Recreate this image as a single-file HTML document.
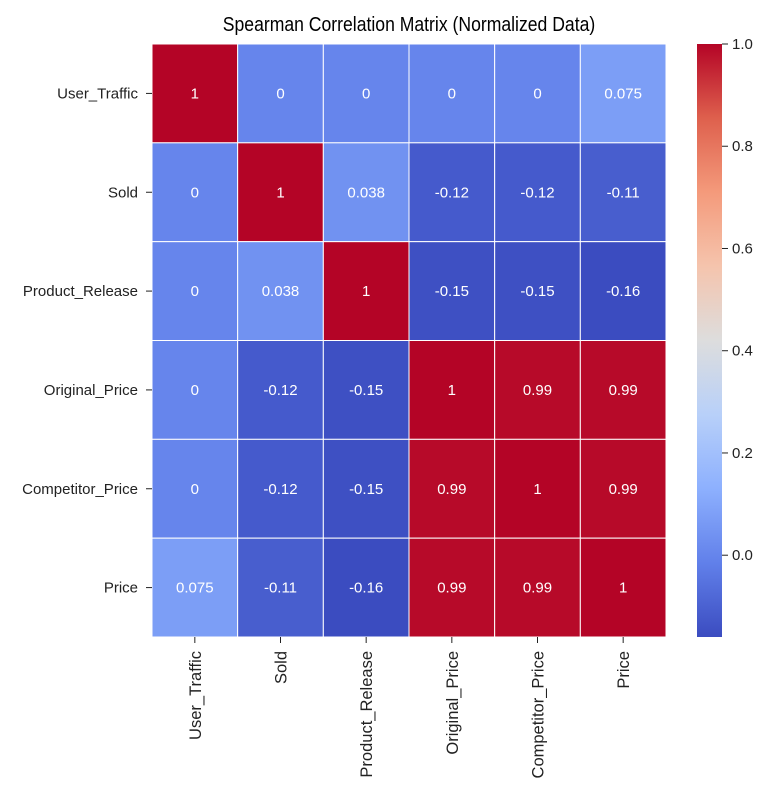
<!DOCTYPE html>
<html><head><meta charset="utf-8"><style>
body{margin:0;background:#fff;}
svg text{font-family:"Liberation Sans",sans-serif;}
</style></head><body>
<svg id="chart" width="778" height="805" xmlns="http://www.w3.org/2000/svg">
<defs><linearGradient id="cbg" x1="0" y1="1" x2="0" y2="0">
<stop offset="0" stop-color="rgb(59,76,192)"/><stop offset="0.125" stop-color="rgb(97,128,234)"/><stop offset="0.25" stop-color="rgb(141,176,254)"/><stop offset="0.375" stop-color="rgb(184,208,249)"/><stop offset="0.5" stop-color="rgb(221,221,221)"/><stop offset="0.625" stop-color="rgb(245,196,173)"/><stop offset="0.75" stop-color="rgb(244,154,123)"/><stop offset="0.875" stop-color="rgb(222,96,77)"/><stop offset="1" stop-color="rgb(180,4,38)"/>
</linearGradient></defs>
<text x="409" y="31" text-anchor="middle" font-size="20" transform="translate(409,0) scale(0.88,1) translate(-409,0)">Spearman Correlation Matrix (Normalized Data)</text>
<g id="cells"></g>
<rect x="697" y="44" width="25" height="593" fill="url(#cbg)"/>
<g id="cbticks"></g>
</svg>
<script>
const labels=["User_Traffic","Sold","Product_Release","Original_Price","Competitor_Price","Price"];
const row0=[1,0,0,0,0,0.075];
const row1=[0,1,0.038,-0.12,-0.12,-0.11];
const row2=[0,0.038,1,-0.15,-0.15,-0.16];
const row3=[0,-0.12,-0.15,1,0.99,0.99];
const row4=[0,-0.12,-0.15,0.99,1,0.99];
const row5=[0.075,-0.11,-0.16,0.99,0.99,1];
const rows=[row0,row1,row2,row3,row4,row5];
const cbTicks=[0.0,0.2,0.4,0.6,0.8,1.0];
const vmin=-0.16,vmax=1.0;
const X0=152,Y0=44,W=514,H=593;
const cw=W/labels.length,ch=H/labels.length;
const stops=[[59,76,192],[97,128,234],[141,176,254],[184,208,249],[221,221,221],[245,196,173],[244,154,123],[222,96,77],[180,4,38]];
function color(v){let t=(v-vmin)/(vmax-vmin);t=Math.max(0,Math.min(1,t));const p=t*8,i=Math.min(7,Math.floor(p)),f=p-i;const a=stops[i],b=stops[i+1];return `rgb(${a.map((c,k)=>Math.round(c+(b[k]-c)*f)).join(',')})`;}
function cbY(v){return Y0+H-(v-vmin)/(vmax-vmin)*H;}
const NS="http://www.w3.org/2000/svg";
const g=document.getElementById('cells');
function mk(tag,attrs,parent){const e=document.createElementNS(NS,tag);for(const k in attrs)e.setAttribute(k,attrs[k]);parent.appendChild(e);return e;}
rows.forEach((r,i)=>{r.forEach((v,j)=>{
 const rc=mk('rect',{x:X0+j*cw,y:Y0+i*ch,width:cw,height:ch,fill:color(v),stroke:'#fff','stroke-width':1},g);
 
 
 const t=mk('text',{x:X0+(j+0.5)*cw,y:Y0+(i+0.5)*ch+5,'text-anchor':'middle','font-size':15,fill:'#fff'},g);
 t.textContent=String(v);
 
 
});});
labels.forEach((l,i)=>{
 const t=mk('text',{x:X0-14,y:Y0+(i+0.5)*ch+5,'text-anchor':'end','font-size':15,fill:'#222'},g);
 t.textContent=l;
 
 
 mk('line',{x1:X0-6,x2:X0,y1:Y0+(i+0.5)*ch,y2:Y0+(i+0.5)*ch,stroke:'#222'},g);
 const x=X0+(i+0.5)*cw;
 mk('line',{x1:x,x2:x,y1:Y0+H,y2:Y0+H+6,stroke:'#222'},g);
 const tx=mk('text',{x:x+6,y:Y0+H+14,'text-anchor':'end','font-size':16.5,fill:'#222',transform:`rotate(-90 ${x+6} ${Y0+H+14})`},g);
 tx.textContent=l;
 
 
});
const cb=document.getElementById('cbticks');
cbTicks.forEach(v=>{const y=cbY(v);
 mk('line',{x1:722,x2:728,y1:y,y2:y,stroke:'#222'},cb);
 const t=mk('text',{x:732,y:y+5,'font-size':15,fill:'#222'},cb);
 t.textContent=v.toFixed(1);
 
 
});
</script>
</body></html>
